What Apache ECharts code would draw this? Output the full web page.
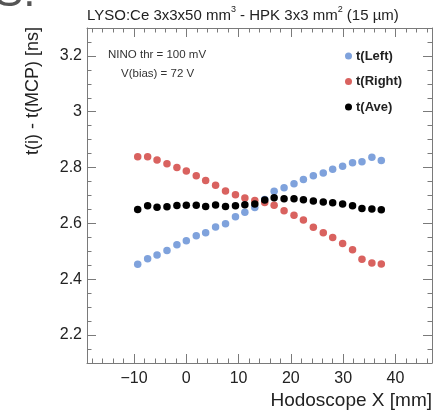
<!DOCTYPE html>
<html>
<head>
<meta charset="utf-8">
<script src="https://cdn.jsdelivr.net/npm/echarts@6/dist/echarts.min.js"></script>
<style>html,body{margin:0;padding:0;background:#fff}#c{width:440px;height:413px}</style>
</head>
<body>
<div id="c"></div>
<script>
// ---- data ----
const xValues = [-9.3, -7.4, -5.6, -3.7, -1.8, 0.0, 1.9, 3.7, 5.6, 7.5, 9.4, 11.2, 13.1, 15.0, 16.8, 18.7, 20.6, 22.4, 24.3, 26.2, 28.0, 29.9, 31.8, 33.6, 35.5, 37.3];
const tLeft  = [2.454, 2.473, 2.487, 2.503, 2.524, 2.538, 2.556, 2.567, 2.587, 2.599, 2.624, 2.640, 2.657, 2.686, 2.715, 2.728, 2.742, 2.757, 2.771, 2.781, 2.794, 2.805, 2.817, 2.821, 2.837, 2.825];
const tRight = [2.839, 2.839, 2.827, 2.814, 2.800, 2.788, 2.771, 2.754, 2.737, 2.716, 2.703, 2.691, 2.682, 2.675, 2.665, 2.645, 2.629, 2.612, 2.586, 2.567, 2.550, 2.528, 2.506, 2.472, 2.458, 2.455];
const tAve   = [2.650, 2.663, 2.658, 2.660, 2.664, 2.665, 2.665, 2.661, 2.666, 2.661, 2.663, 2.667, 2.670, 2.684, 2.692, 2.688, 2.688, 2.685, 2.680, 2.677, 2.674, 2.670, 2.663, 2.653, 2.652, 2.649];
const seriesNames = ['t(Left)', 't(Right)', 't(Ave)'];
const xMajorTicks = [-10, 0, 10, 20, 30, 40];
const xMinorTicks = [-18, -16, -14, -12, -8, -6, -4, -2, 2, 4, 6, 8, 12, 14, 16, 18, 22, 24, 26, 28, 32, 34, 36, 38, 42, 44, 46];
const yMajorTicks = [2.2, 2.4, 2.6, 2.8, 3.0, 3.2];
const yMinorTicks = [2.1, 2.15, 2.25, 2.3, 2.35, 2.45, 2.5, 2.55, 2.65, 2.7, 2.75, 2.85, 2.9, 2.95, 3.05, 3.1, 3.15, 3.25, 3.3];
const xRange = [-19, 47];
const yRange = [2.1, 3.3];

const FONT = '"Liberation Sans", Arial, Helvetica, sans-serif';
const AX = '#7a7a7a';
const TXT = '#222';
const colors = ['#7fa2dc', '#d9625f', '#000000'];

const mk = (ys) => xValues.map((x, i) => [x, ys[i]]);

function xAxisDef(pos, major) {
  return {
    type: 'value', position: pos, min: xRange[0], max: xRange[1],
    axisLine: { show: major, onZero: false, lineStyle: { color: AX, width: 1 } },
    axisTick: { show: true, inside: true, length: major ? 9 : 4.5, lineStyle: { color: AX },
      customValues: major ? xMajorTicks : xMinorTicks },
    axisLabel: { show: major && pos === 'bottom', customValues: xMajorTicks, margin: 8,
      color: TXT, fontFamily: FONT, fontSize: 16,
      formatter: v => (v < 0 ? '\u2212' + (-v) : String(v)) },
    splitLine: { show: false }
  };
}
function yAxisDef(pos, major) {
  return {
    type: 'value', position: pos, min: yRange[0], max: yRange[1],
    axisLine: { show: major, onZero: false, lineStyle: { color: AX, width: 1 } },
    axisTick: { show: true, inside: true, length: major ? 9 : 4.5, lineStyle: { color: AX },
      customValues: major ? yMajorTicks : yMinorTicks },
    axisLabel: { show: major && pos === 'left', customValues: yMajorTicks, margin: 5,
      color: TXT, fontFamily: FONT, fontSize: 16,
      formatter: v => String(+(+v).toFixed(2)) },
    splitLine: { show: false }
  };
}

const chart = echarts.init(document.getElementById('c'), null, { renderer: 'canvas' });
const seriesData = [tLeft, tRight, tAve];
chart.setOption({
  animation: false,
  backgroundColor: '#fff',
  grid: { left: 87, right: 8, top: 28, bottom: 50 },
  xAxis: [xAxisDef('bottom', true), xAxisDef('bottom', false), xAxisDef('top', true), xAxisDef('top', false)],
  yAxis: [yAxisDef('left', true), yAxisDef('left', false), yAxisDef('right', true), yAxisDef('right', false)],
  legend: {
    orient: 'vertical', left: 345, top: 49, padding: 0,
    itemWidth: 7, itemHeight: 7, itemGap: 11.5,
    icon: 'circle',
    data: seriesNames,
    itemStyle: { opacity: 1 },
    textStyle: { fontFamily: FONT, fontSize: 13, fontWeight: 'bold', color: TXT, padding: [0, 0, 0, -1], lineHeight: 14 }
  },
  series: seriesNames.map((n, i) => ({
    name: n, type: 'scatter', xAxisIndex: 0, yAxisIndex: 0,
    symbol: 'circle', symbolSize: 7.5,
    itemStyle: { color: colors[i], opacity: 1 },
    emphasis: { disabled: true },
    data: mk(seriesData[i])
  })),
  graphic: [
    { type: 'text', left: 87, top: 5, style: {
        text: '{n|LYSO:Ce 3x3x50 mm}{s|3}{n| - HPK 3x3 mm}{s|2}{n| (15 \u00b5m)}',
        rich: {
          n: { fontFamily: FONT, fontSize: 15, fill: TXT, verticalAlign: 'bottom', lineHeight: 18 },
          s: { fontFamily: FONT, fontSize: 9, fill: TXT, verticalAlign: 'top', lineHeight: 18, padding: [0, 0, 8, 0] }
        } } },
    { type: 'text', x: 108, y: 55, style: { text: 'NINO thr = 100 mV', fontFamily: FONT, fontSize: 11.5, fill: '#333', verticalAlign: 'middle' } },
    { type: 'text', x: 121, y: 74, style: { text: 'V(bias) = 72 V', fontFamily: FONT, fontSize: 11.5, fill: '#333', verticalAlign: 'middle' } },
    { type: 'text', x: 33, y: 27, rotation: Math.PI / 2, style: { text: 't(i) - t(MCP) [ns]', fontFamily: FONT, fontSize: 18, fill: TXT, align: 'right', verticalAlign: 'middle' } },
    { type: 'text', x: 432, y: 401, style: { text: 'Hodoscope X [mm]', fontFamily: FONT, fontSize: 19, fill: TXT, align: 'right', verticalAlign: 'middle' } },
    { type: 'text', x: -6, y: -6, style: { text: 'S.', fontFamily: FONT, fontSize: 44, fill: '#555', align: 'left', verticalAlign: 'middle' } }
  ]
});
</script>
</body>
</html>
